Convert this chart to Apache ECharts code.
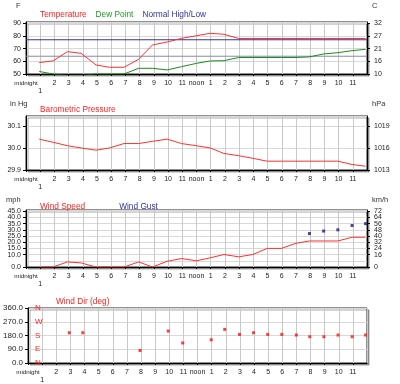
<!DOCTYPE html>
<html><head><meta charset="utf-8">
<script src="https://cdn.jsdelivr.net/npm/echarts@6/dist/echarts.min.js"></script>
<style>html,body{margin:0;padding:0;background:#fff}#c{width:400px;height:384px}</style>
</head><body><div id="c"></div>
<script>
// x-axis tick labels (position 0..24 along the day)
const hourLabels = ['midnight','\n1','2','3','4','5','6','7','8','9','10','11','noon','1','2','3','4','5','6','7','8','9','10','11',''];
// observation times (hour position on the axis)
const obsTimes = [0.93,1.9,2.92,3.88,4.93,5.87,6.9,7.93,8.9,9.93,10.95,12.0,12.97,13.93,14.97,15.97,16.97,17.97,19.0,19.95,20.95,21.95,22.95,23.9];
const temperatureF = [59,60.3,67.6,66.3,57.1,55.3,55.3,61.6,72.9,75.2,78.1,80.2,82.1,81.3,78,78,78,78,78,78,78,78,78,78];
const dewPointF = [52,50,49,49,50,50,50,54.5,54.5,53.2,55.8,58.4,60.3,60.5,63,63,63,63,63,63.5,65.8,66.8,68.4,69.5];
const normalTimes = [0,24];
const normalHighF = [77,77];
const normalLowF = [64,64];
const pressureInHg = [30.04,30.026,30.01,30.0,29.99,30.0,30.02,30.02,30.03,30.04,30.02,30.01,30.0,29.975,29.965,29.953,29.94,29.94,29.94,29.94,29.94,29.94,29.925,29.917];
const windSpeedMph = [0,0,4.1,3.3,0,0,0,4.1,0,4.6,6.8,5,7.4,10.1,8.2,10.1,15,15,19.1,21,21,21,24,24];
const windGustMph = [null,null,null,null,null,null,null,null,null,null,null,null,null,null,null,null,null,null,null,27,29,30,33.5,35];
const windDirDeg = [null,null,198,198,null,null,null,82,null,209,131,null,152,220,187,198,187,187,183,172,172,183,172,183];
const compassLabels = ['N','E','S','W','N'];

const FONT = "'Liberation Sans', Arial, sans-serif";
const pair = (xs, ys) => xs.map((x, i) => ys[i] == null ? null : [x, ys[i]]).filter(p => p);

const gridBase = {left:26, right:33, show:true, backgroundColor:'#fff', borderColor:'#222', borderWidth:1,
  shadowColor:'rgba(0,0,0,0.35)', shadowOffsetX:2, shadowOffsetY:2, shadowBlur:0};
const grids = [
  Object.assign({top:22, height:52}, gridBase),
  Object.assign({top:116, height:54}, gridBase),
  Object.assign({top:210, height:57}, gridBase),
  Object.assign({top:308, height:55}, gridBase)
];

const mkX = gi => ({
  type:'value', gridIndex:gi, min:0, max:24, interval:1,
  axisLine:{show:true, lineStyle:{color:'#000'}},
  axisTick:{show:true, length:2, lineStyle:{color:'#000'}},
  axisLabel:{fontSize:7, fontFamily:FONT, color:'#222', margin:5, lineHeight:8,
    showMinLabel:true, showMaxLabel:false, hideOverlap:false,
    rich:{m:{fontSize:6.2, fontFamily:FONT, color:'#222', lineHeight:8}},
    formatter: v => {
      const i = Math.round(v);
      return i === 0 ? '{m|' + hourLabels[0] + '}' : (hourLabels[i] || '');
    }},
  splitLine:{show:true, lineStyle:{color:'#c8c8c8', width:1}}
});
const mkY = (gi, pos, min, max, interval, fmt, split, fs, showMax) => ({
  type:'value', gridIndex:gi, position:pos, min:min, max:max, interval:interval,
  axisLine:{show:true, lineStyle:{color:'#000'}},
  axisTick:{show:true, length:3, lineStyle:{color:'#000'}},
  axisLabel:{fontSize:fs || 7, fontFamily:FONT, color:'#222', margin:pos === 'left' ? 5 : 7,
    showMinLabel:true, showMaxLabel:!!showMax, hideOverlap:false, formatter:fmt},
  splitLine:{show:split, lineStyle:{color:'#d8d8d8', width:1}}
});

const unitStyle = {fontSize:7.5, fontWeight:'normal', color:'#333', fontFamily:FONT};
const titles = [
  {text:'F', left:16, top:2},
  {text:'C', left:372, top:2},
  {text:'in Hg', left:10, top:100},
  {text:'hPa', left:372, top:100},
  {text:'mph', left:6, top:196},
  {text:'km/h', left:372, top:196}
].map(t => Object.assign({padding:0, textStyle:unitStyle}, t));

const legendBase = {orient:'horizontal', icon:'none', itemWidth:0, itemHeight:12, selectedMode:false,
  textStyle:{fontSize:8.3, fontFamily:FONT}};
const legends = [
  Object.assign({}, legendBase, {left:30, top:4, itemGap:4, data:[
    {name:'Temperature', textStyle:{color:'#ff2020'}},
    {name:'Dew Point', textStyle:{color:'#229922'}},
    {name:'Normal High/Low', textStyle:{color:'#333399'}}]}),
  Object.assign({}, legendBase, {left:30, top:99, data:[{name:'Barometric Pressure', textStyle:{color:'#ff2020'}}]}),
  Object.assign({}, legendBase, {left:30, top:195.5, itemGap:29, data:[
    {name:'Wind Speed', textStyle:{color:'#ff2020'}},
    {name:'Wind Gust', textStyle:{color:'#333399'}}]}),
  Object.assign({}, legendBase, {left:46, top:291, data:[{name:'Wind Dir (deg)', textStyle:{color:'#ff2020'}}]})
];

const lineS = (name, xi, yi, data, color, z) => ({
  name:name, type:'line', xAxisIndex:xi, yAxisIndex:yi, data:data, symbol:'none',
  lineStyle:{color:color, width:1}, itemStyle:{color:color}, animation:false, z:z || 2
});
const dotS = (name, xi, yi, data, color) => ({
  name:name, type:'scatter', xAxisIndex:xi, yAxisIndex:yi, data:data, symbol:'rect', symbolSize:3,
  itemStyle:{color:color}, animation:false
});

const option = {
  backgroundColor:'#fff',
  animation:false,
  title:titles,
  legend:legends,
  grid:grids,
  xAxis:[mkX(0), mkX(1), mkX(2), mkX(3)],
  yAxis:[
    mkY(0,'left',50,91,10, v => String(v), true),
    mkY(0,'right',50,91,10, v => String(Math.round((v-32)*5/9)), false),
    mkY(1,'left',29.9,30.145,0.1, v => v.toFixed(1), true),
    mkY(1,'right',29.9,30.145,0.1, v => String(Math.round(v*33.8639)), false),
    mkY(2,'left',0,46,5, v => v.toFixed(1), true),
    mkY(2,'right',0,46,5, v => String(Math.round(v*1.609)), false),
    mkY(3,'left',0,360,90, v => v.toFixed(1), true, 8, true),
    {type:'value', gridIndex:3, position:'left', min:0, max:360, interval:90,
      axisLine:{show:false}, axisTick:{show:false}, splitLine:{show:false},
      axisLabel:{inside:true, margin:7, fontSize:8, fontFamily:FONT, color:'#ff2020',
        showMinLabel:true, showMaxLabel:true, hideOverlap:false,
        formatter: v => compassLabels[Math.round(v/90)]}}
  ],
  series:[
    lineS('Normal High/Low',0,0,pair(normalTimes, normalHighF),'#333399',2),
    lineS('Normal High/Low',0,0,pair(normalTimes, normalLowF),'#8a8aac',2),
    lineS('Dew Point',0,0,pair(obsTimes, dewPointF),'#1a8c1a',3),
    lineS('Temperature',0,0,pair(obsTimes, temperatureF),'#ff3030',3),
    lineS('Barometric Pressure',1,2,pair(obsTimes, pressureInHg),'#ff3030',3),
    lineS('Wind Speed',2,4,pair(obsTimes, windSpeedMph),'#ff3030',3),
    dotS('Wind Gust',2,4,pair(obsTimes, windGustMph),'#1a1a80'),
    dotS('Wind Dir (deg)',3,6,pair(obsTimes, windDirDeg),'#ff1010')
  ]
};
const chart = echarts.init(document.getElementById('c'), null, {renderer:'canvas'});
chart.setOption(option);
</script></body></html>
